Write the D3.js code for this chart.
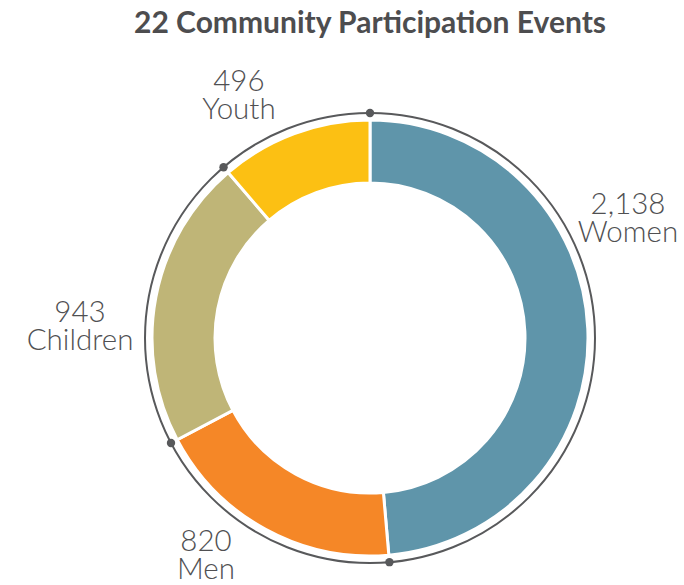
<!DOCTYPE html>
<html>
<head>
<meta charset="utf-8">
<script src="https://cdn.jsdelivr.net/npm/d3@7"></script>
<style>
html,body{margin:0;padding:0;background:#fff;}
svg{display:block;}
</style>
</head>
<body>
<svg id="chart" width="684" height="585"></svg>
<script>
const categories = ["Women", "Men", "Children", "Youth"];
const values = [2138, 820, 943, 496];
const valueLabels = ["2,138", "820", "943", "496"];
const colors = ["#5f95aa", "#f58727", "#bfb577", "#fcc013"];
const title = "22 Community Participation Events";

// label placement (angle in degrees clockwise from top, radius from centre)
const labelLayout = [
  {angle: 66.9, r: 280.5},
  {angle: 215.8, r: 280.4},
  {angle: 270.4, r: 290},
  {angle: 330.6, r: 267}
];

const W = 684, H = 585;
const cx = 370, cy = 338;
const outerR = 218, innerR = 155, ringR = 225;

const svg = d3.select("#chart");
svg.append("text")
  .attr("x", 370).attr("y", 33)
  .attr("text-anchor", "middle")
  .attr("font-family", "Lato, 'Open Sans', sans-serif")
  .attr("font-weight", 700)
  .attr("font-size", 30)
  .attr("fill", "#4d4d4f")
  .text(title);

const g = svg.append("g").attr("transform", `translate(${cx},${cy})`);

const data = categories.map((c, i) => ({cat: c, value: values[i], label: valueLabels[i], color: colors[i]}));
const pie = d3.pie().sort(null).value(d => d.value);
const arcs = pie(data);
const arc = d3.arc().innerRadius(innerR).outerRadius(outerR);

g.selectAll("path.seg").data(arcs).enter().append("path")
  .attr("class", "seg")
  .attr("d", arc)
  .attr("fill", d => d.data.color)
  .attr("stroke", "#fff")
  .attr("stroke-width", 3)
  .attr("stroke-linejoin", "miter");

g.append("circle").attr("r", ringR)
  .attr("fill", "none").attr("stroke", "#58595b").attr("stroke-width", 2);

g.selectAll("circle.dot").data(arcs).enter().append("circle")
  .attr("class", "dot")
  .attr("cx", d => ringR * Math.sin(d.startAngle))
  .attr("cy", d => -ringR * Math.cos(d.startAngle))
  .attr("r", 4.2)
  .attr("fill", "#58595b");

const lab = g.selectAll("g.lab").data(arcs).enter().append("g")
  .attr("class", "lab")
  .attr("transform", (d, i) => {
    const a = labelLayout[i].angle * Math.PI / 180, r = labelLayout[i].r;
    return `translate(${r * Math.sin(a)},${-r * Math.cos(a)})`;
  });
lab.append("text")
  .attr("y", -14)
  .attr("text-anchor", "middle")
  .attr("font-family", "Lato, 'Open Sans', sans-serif")
  .attr("font-weight", 300)
  .attr("font-size", 29.5)
  .attr("fill", "#505052")
  .text(d => d.data.label);
lab.append("text")
  .attr("y", 14)
  .attr("text-anchor", "middle")
  .attr("font-family", "Lato, 'Open Sans', sans-serif")
  .attr("font-weight", 300)
  .attr("font-size", 29.5)
  .attr("fill", "#505052")
  .text(d => d.data.cat);
</script>
</body>
</html>
